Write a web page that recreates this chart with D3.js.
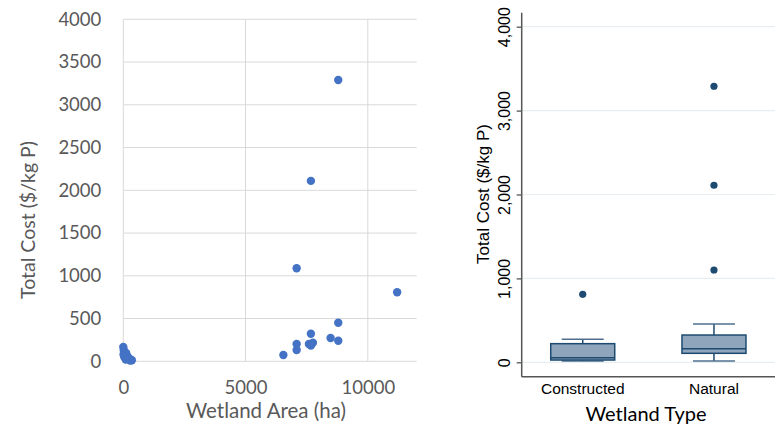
<!DOCTYPE html>
<html><head><meta charset="utf-8">
<script src="https://cdn.jsdelivr.net/npm/d3@7"></script>
<style>
html,body{margin:0;padding:0;background:#fff;}
svg{display:block;}
</style></head>
<body>
<svg id="chart" width="782" height="425"></svg>
<script>
// ---- Left scatter data ----
const areaHa   = [8792, 7673, 7090, 11200, 8792, 7673, 8478, 8792, 7090, 7592, 7755, 7673, 7090, 6547,
                  0, 20, 60, 10, 120, 150, 40, 200, 250, 300, 350, 280, 100];
const costPerKg = [3290, 2110, 1088, 807, 451, 323, 272, 241, 202, 202, 218, 183, 132, 74,
                  167, 130, 105, 80, 95, 60, 50, 45, 30, 20, 12, 8, 20];
const scatterXTicks = [0, 5000, 10000];
const scatterYTicks = [0, 500, 1000, 1500, 2000, 2500, 3000, 3500, 4000];

// ---- Right box plot data ----
const boxCategories = ["Constructed", "Natural"];
const boxQ1     = [27, 107];
const boxMedian = [55, 162];
const boxQ3     = [222, 325];
const boxLow    = [15, 15];
const boxHigh   = [274, 456];
const boxOutliers = [[810], [1100, 2110, 3290]];
const boxYTicks = [0, 1000, 2000, 3000, 4000];

const svg = d3.select("#chart");

// ================= LEFT: scatter =================
const L = {left:123.3, right:416.7, top:19.3, bottom:361.3};
const x = d3.scaleLinear().domain([0, 12000]).range([L.left, L.right]);
const y = d3.scaleLinear().domain([0, 4000]).range([L.bottom, L.top]);
const gL = svg.append("g");
const gray = "#595959";
const fontL = "Lato, 'Open Sans', sans-serif";

gL.append("g").selectAll("line").data(scatterYTicks).join("line")
  .attr("x1", L.left).attr("x2", L.right)
  .attr("y1", d => y(d)).attr("y2", d => y(d))
  .attr("stroke", "#d9d9d9").attr("stroke-width", 1);
gL.append("g").selectAll("line").data(scatterXTicks).join("line")
  .attr("x1", d => x(d)).attr("x2", d => x(d))
  .attr("y1", L.top).attr("y2", L.bottom)
  .attr("stroke", "#d9d9d9").attr("stroke-width", 1);

const yAxisL = gL.append("g").attr("transform", `translate(${L.left - 14},0)`)
  .call(d3.axisLeft(y).tickValues(scatterYTicks).tickSize(0).tickPadding(8).tickFormat(d3.format("d")));
yAxisL.select(".domain").remove();
yAxisL.selectAll("text").attr("fill", gray).style("font-family", fontL).style("font-size", "18.5px");

const xAxisL = gL.append("g").attr("transform", `translate(0,${L.bottom + 14})`)
  .call(d3.axisBottom(x).tickValues(scatterXTicks).tickSize(0).tickPadding(6).tickFormat(d3.format("d")));
xAxisL.select(".domain").remove();
xAxisL.selectAll("text").attr("fill", gray).style("font-family", fontL).style("font-size", "18.5px");

gL.append("text").attr("x", 266).attr("y", 418).attr("text-anchor", "middle")
  .attr("fill", gray).style("font-family", fontL).style("font-size", "20.5px").text("Wetland Area (ha)");
gL.append("text").attr("transform", "translate(35,220) rotate(-90)").attr("text-anchor", "middle")
  .attr("fill", gray).style("font-family", fontL).style("font-size", "19.5px").text("Total Cost ($/kg P)");

gL.append("g").selectAll("circle").data(areaHa.map((a, i) => [a, costPerKg[i]])).join("circle")
  .attr("cx", d => x(d[0])).attr("cy", d => y(d[1])).attr("r", 4.2)
  .attr("fill", "#4472c4");

// ================= RIGHT: box plot =================
const R = {left:521.7, right:775, top:12.7, bottom:376.7};
const yR = d3.scaleLinear().domain([0, 4000]).range([362.3, 26.7]);
const xR = d3.scalePoint().domain(boxCategories).range([R.left, R.right]).padding(0.465);
const gR = svg.append("g");
const fontR = "'Liberation Sans', Arial, sans-serif";
const navy = "#1d4a70";

gR.append("g").selectAll("line").data(boxYTicks).join("line")
  .attr("x1", R.left).attr("x2", R.right)
  .attr("y1", d => yR(d)).attr("y2", d => yR(d))
  .attr("stroke", "#e6eef2").attr("stroke-width", 1.2);

const yAxisR = gR.append("g").attr("transform", `translate(${R.left},0)`)
  .call(d3.axisLeft(yR).tickValues(boxYTicks).tickSize(5).tickFormat(d3.format(",")));
yAxisR.select(".domain").remove();
yAxisR.selectAll("line").attr("stroke", "#555").attr("stroke-width", 1.3);
yAxisR.selectAll("text")
  .attr("transform", "rotate(-90)").attr("x", 0).attr("y", -12).attr("dy", "0")
  .attr("text-anchor", "middle").attr("fill", "#000")
  .style("font-family", fontR).style("font-size", "16px");

gR.append("line").attr("x1", R.left).attr("x2", R.left).attr("y1", R.top).attr("y2", R.bottom)
  .attr("stroke", "#555").attr("stroke-width", 1.5);
gR.append("line").attr("x1", R.left).attr("x2", R.right).attr("y1", R.bottom).attr("y2", R.bottom)
  .attr("stroke", "#555").attr("stroke-width", 1.5);

gR.append("g").selectAll("text").data(boxCategories).join("text")
  .attr("x", d => xR(d)).attr("y", 394).attr("text-anchor", "middle")
  .attr("fill", "#000").style("font-family", fontR).style("font-size", "15.5px").text(d => d);

gR.append("text").attr("x", 646).attr("y", 421).attr("text-anchor", "middle")
  .attr("fill", "#000").style("font-family", fontL).style("font-size", "20px").text("Wetland Type");
gR.append("text").attr("transform", "translate(489,194) rotate(-90)").attr("text-anchor", "middle")
  .attr("fill", "#000").style("font-family", fontR).style("font-size", "17px").text("Total Cost ($/kg P)");

const boxW = 64, capW = 42;
boxCategories.forEach((c, i) => {
  const cx = xR(c);
  const g = gR.append("g");
  g.append("line").attr("x1", cx).attr("x2", cx).attr("y1", yR(boxHigh[i])).attr("y2", yR(boxQ3[i]))
    .attr("stroke", navy).attr("stroke-width", 1.5);
  g.append("line").attr("x1", cx).attr("x2", cx).attr("y1", yR(boxQ1[i])).attr("y2", yR(boxLow[i]))
    .attr("stroke", navy).attr("stroke-width", 1.5);
  g.append("line").attr("x1", cx - capW/2).attr("x2", cx + capW/2).attr("y1", yR(boxHigh[i])).attr("y2", yR(boxHigh[i]))
    .attr("stroke", "#4f6f8f").attr("stroke-width", 1.5);
  g.append("line").attr("x1", cx - capW/2).attr("x2", cx + capW/2).attr("y1", yR(boxLow[i])).attr("y2", yR(boxLow[i]))
    .attr("stroke", "#4f6f8f").attr("stroke-width", 1.5);
  g.append("rect").attr("x", cx - boxW/2).attr("width", boxW)
    .attr("y", yR(boxQ3[i])).attr("height", yR(boxQ1[i]) - yR(boxQ3[i]))
    .attr("fill", "#8fa5bb").attr("stroke", navy).attr("stroke-width", 1.5);
  g.append("line").attr("x1", cx - boxW/2).attr("x2", cx + boxW/2).attr("y1", yR(boxMedian[i])).attr("y2", yR(boxMedian[i]))
    .attr("stroke", navy).attr("stroke-width", 1.5);
  g.selectAll("circle").data(boxOutliers[i]).join("circle")
    .attr("cx", cx).attr("cy", d => yR(d)).attr("r", 3.6).attr("fill", navy);
});
</script>
</body></html>
